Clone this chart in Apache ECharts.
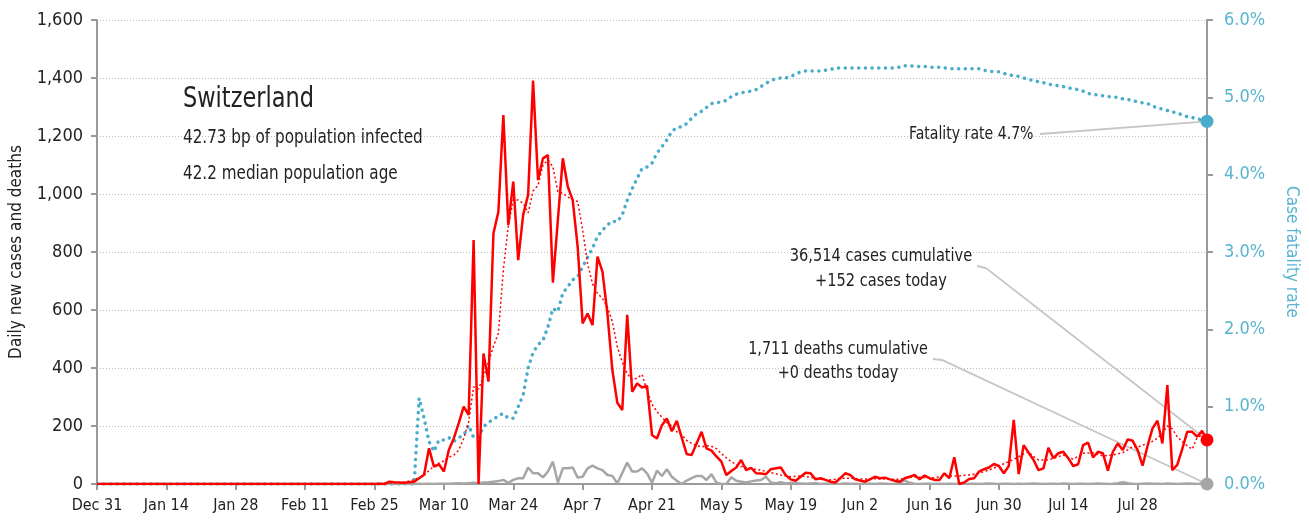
<!DOCTYPE html>
<html>
<head>
<meta charset="utf-8">
<title>Switzerland</title>
<script src="https://cdn.jsdelivr.net/npm/echarts@6/dist/echarts.min.js"></script>
<style>
  html, body { margin: 0; padding: 0; background: #fff; }
  #chart { width: 1309px; height: 523px; }
</style>
</head>
<body>
<div id="chart"></div>
<script>
  // daily values, Dec 31 2019 .. Aug 11 2020 (225 days)
  var startDay = Date.UTC(2019, 11, 31)
  var monthNames = ['Jan', 'Feb', 'Mar', 'Apr', 'May', 'Jun', 'Jul', 'Aug', 'Sep', 'Oct', 'Nov', 'Dec']

  var dailyCases = [
    0, 0, 0, 0, 0, 0, 0, 0, 0, 0, 0, 0, 0, 0, 0, 0, 0, 0, 0, 0,
    0, 0, 0, 0, 0, 0, 0, 0, 0, 0, 0, 0, 0, 0, 0, 0, 0, 0, 0, 0,
    0, 0, 0, 0, 0, 0, 0, 0, 0, 0, 0, 0, 0, 0, 0, 0, 0,
    1, 0, 8, 6, 5, 4, 6, 8, 20, 32, 123, 60, 68, 43, 117, 157, 210, 267, 238, 841,
    0, 450, 353, 864, 939, 1272, 893, 1043, 772, 928, 997, 1391, 1048, 1123, 1134, 694, 910, 1123, 1026, 979,
    818, 554, 588, 548, 784, 732, 588, 393, 280, 255, 583, 318, 347, 333, 338, 169, 157, 203, 226, 182,
    218, 160, 103, 100, 140, 180, 123, 115, 95, 77, 31, 45, 57, 83, 48, 56, 37, 36, 34, 51,
    54, 57, 30, 16, 11, 25, 39, 37, 16, 20, 14, 8, 5, 20, 37, 31, 16, 12, 8, 16,
    25, 20, 22, 16, 11, 8, 20, 25, 31, 16, 29, 20, 14, 14, 37, 20, 92, 0, 5, 17,
    20, 43, 51, 57, 69, 62, 37, 62, 221, 34, 134, 108, 83, 48, 54, 125, 89, 106, 111, 89,
    62, 68, 134, 143, 92, 111, 106, 46, 111, 140, 117, 154, 149, 117, 63, 131, 192, 218, 140, 341,
    48, 66, 120, 180, 180, 163, 183, 152
  ]

  var casesAverage = [
    0, 0, 0, 0, 0, 0, 0, 0, 0, 0, 0, 0, 0, 0, 0, 0, 0, 0, 0, 0,
    0, 0, 0, 0, 0, 0, 0, 0, 0, 0, 0, 0, 0, 0, 0, 0, 0, 0, 0, 0,
    0, 0, 0, 0, 0, 0, 0, 0, 0, 0, 0, 0, 0, 0, 0, 0,
    0, 1, 2, 3, 4, 5, 6, 10, 15, 22, 30, 46, 62, 72, 80, 92, 100, 117, 157, 215,
    335, 328, 370, 420, 475, 520, 738, 890, 980, 979, 968, 935, 1010, 1030, 1100, 1117, 1094, 1008, 1002, 990,
    979, 974, 876, 760, 690, 657, 640, 610, 560, 473, 420, 380, 360, 365, 378, 320, 275, 250, 230, 212,
    200, 180, 170, 150, 140, 132, 128, 132, 130, 122, 105, 90, 77, 68, 60, 57, 54, 50, 48, 43,
    39, 35, 31, 28, 25, 26, 28, 26, 23, 20, 16, 15, 14, 16, 20, 20, 20, 18, 17, 17,
    18, 18, 17, 17, 16, 16, 17, 18, 22, 24, 23, 22, 21, 22, 25, 27, 28, 28, 28, 30,
    31, 34, 37, 43, 48, 55, 62, 70, 77, 85, 94, 104, 111, 94, 83, 83, 83, 88, 94, 100,
    92, 85, 96, 106, 107, 108, 102, 97, 99, 100, 104, 108, 118, 129, 127, 134, 140, 147, 158, 175,
    200, 190, 163, 146, 132, 120, 160, 169, 165
  ]

  var dailyDeaths = [
    0, 0, 0, 0, 0, 0, 0, 0, 0, 0, 0, 0, 0, 0, 0, 0, 0, 0, 0, 0,
    0, 0, 0, 0, 0, 0, 0, 0, 0, 0, 0, 0, 0, 0, 0, 0, 0, 0, 0, 0,
    0, 0, 0, 0, 0, 0, 0, 0, 0, 0, 0, 0, 0, 0, 0, 0, 0, 0, 0, 0,
    0, 0, 0, 0, 0,
    1, 0, 1, 0, 1, 1, 1, 2, 3, 2, 3, 4, 3, 5, 6, 8, 10, 14, 4, 14,
    20, 20, 57, 37, 37, 23, 43, 77, 5, 54, 54, 57, 22, 25, 54, 63, 54, 48, 31, 28,
    2, 38, 74, 43, 43, 54, 37, 4, 46, 28, 51, 25, 11, 0, 12, 20, 28, 28, 14, 34,
    5, 0, 0, 23, 11, 8, 5, 9, 12, 14, 25, 5, 3, 6, 2, 4, 3, 2, 1, 2,
    3, 0, 1, 2, 1, 0, 2, 1, 1, 0, 1, 1, 0, 2, 1, 0, 1, 6, 12, 4,
    1, 0, 1, 1, 0, 1, 0, 1, 0, 1, 0, 1, 1, 0, 1, 2, 1, 0, 1, 1,
    0, 1, 0, 1, 2, 1, 0, 1, 1, 0, 2, 1, 0, 1, 1, 0, 1, 2, 1, 0,
    1, 3, 6, 3, 1, 0, 1, 2, 1, 1, 0, 2, 1, 0, 1, 2, 1, 0, 1, 0
  ]

  // case fatality rate, %
  var fatalityRate = [
    0, 0, 0, 0, 0, 0, 0, 0, 0, 0, 0, 0, 0, 0, 0, 0, 0, 0, 0, 0,
    0, 0, 0, 0, 0, 0, 0, 0, 0, 0, 0, 0, 0, 0, 0, 0, 0, 0, 0, 0,
    0, 0, 0, 0, 0, 0, 0, 0, 0, 0, 0, 0, 0, 0, 0, 0, 0, 0, 0, 0,
    0, 0, 0, 0, 0,
    1.11, 0.85, 0.55, 0.42, 0.57, 0.57, 0.60, 0.55, 0.60, 0.63, 0.76, 0.60, 0.61, 0.74, 0.80, 0.83, 0.89, 0.91, 0.85, 0.85,
    1.00, 1.15, 1.50, 1.70, 1.80, 1.86, 2.03, 2.27, 2.23, 2.47, 2.55, 2.64, 2.68, 2.81, 2.93, 3.05, 3.20, 3.28, 3.35, 3.40,
    3.39, 3.48, 3.67, 3.82, 3.95, 4.08, 4.10, 4.15, 4.28, 4.36, 4.45, 4.56, 4.61, 4.62, 4.66, 4.73, 4.79, 4.82, 4.87, 4.92,
    4.93, 4.94, 4.96, 5.01, 5.04, 5.06, 5.07, 5.08, 5.10, 5.14, 5.18, 5.22, 5.24, 5.25, 5.25, 5.27, 5.30, 5.33, 5.34, 5.34,
    5.34, 5.34, 5.35, 5.36, 5.38, 5.38, 5.38, 5.38, 5.38, 5.38, 5.38, 5.38, 5.38, 5.38, 5.38, 5.38, 5.38, 5.39, 5.41, 5.41,
    5.40, 5.40, 5.40, 5.39, 5.39, 5.39, 5.38, 5.37, 5.37, 5.37, 5.37, 5.37, 5.37, 5.37, 5.35, 5.34, 5.33, 5.33, 5.31, 5.29,
    5.28, 5.27, 5.25, 5.23, 5.22, 5.20, 5.19, 5.17, 5.16, 5.15, 5.14, 5.12, 5.11, 5.10, 5.08, 5.05, 5.04, 5.03, 5.02, 5.01,
    5.00, 5.00, 4.98, 4.97, 4.96, 4.94, 4.93, 4.92, 4.89, 4.86, 4.85, 4.83, 4.81, 4.80, 4.77, 4.75, 4.74, 4.72, 4.71, 4.69
  ]

  var leftTicks = { min: 0, max: 1600, step: 200 }
  var rightTicks = { min: 0, max: 6, step: 1 }

  var countryName = 'Switzerland'
  var infoLines = ['42.73 bp of population infected', '42.2 median population age']
  var fatalityNote = 'Fatality rate 4.7%'
  var casesNote = ['36,514 cases cumulative', '+152 cases today']
  var deathsNote = ['1,711 deaths cumulative', '+0 deaths today']

  var FONT = "'DejaVu Sans Condensed', 'Liberation Sans Narrow', 'Roboto', sans-serif"
  var INK = '#222'
  var BLUE = '#4aaccb'
  var BLUE_TEXT = '#5ab4d0'
  var AXIS = '#9a9a9a'
  var LEADER = '#c6c6c6'

  var dates = dailyCases.map(function (v, i) {
    var d = new Date(startDay + i * 86400000)
    return monthNames[d.getUTCMonth()] + ' ' + d.getUTCDate()
  })
  var last = dates.length - 1

  function lastDot (size) {
    return function (v, p) { return p.dataIndex === last ? size : 0 }
  }
  function showTick (i) { return i % 14 === 0 && i < last }

  var chart = echarts.init(document.getElementById('chart'))

  chart.setOption({
    animation: false,
    textStyle: { fontFamily: FONT },
    grid: { left: 96, right: 102, top: 20, bottom: 39 },
    xAxis: {
      type: 'category',
      data: dates,
      boundaryGap: false,
      axisLine: { lineStyle: { color: AXIS, width: 2 } },
      axisTick: { interval: showTick, length: 6, lineStyle: { color: AXIS, width: 2 } },
      axisLabel: { interval: showTick, color: INK, fontSize: 16, margin: 14, fontFamily: FONT },
      splitLine: { show: false }
    },
    yAxis: [{
      type: 'value',
      min: leftTicks.min,
      max: leftTicks.max,
      interval: leftTicks.step,
      name: 'Daily new cases and deaths',
      nameLocation: 'middle',
      nameGap: 72,
      nameTextStyle: { color: INK, fontSize: 17, fontFamily: FONT },
      axisLine: { show: true, lineStyle: { color: AXIS, width: 2 } },
      axisTick: { show: true, length: 6, lineStyle: { color: AXIS, width: 2 } },
      axisLabel: {
        color: INK, fontSize: 18, margin: 14, fontFamily: FONT,
        formatter: function (v) { return v.toLocaleString('en-US') }
      },
      splitLine: { lineStyle: { color: '#bdbdbd', width: 1, type: [1, 2] } }
    }, {
      type: 'value',
      position: 'right',
      min: rightTicks.min,
      max: rightTicks.max,
      interval: rightTicks.step,
      name: 'Case fatality rate',
      nameLocation: 'middle',
      nameGap: 76,
      nameRotate: -90,
      nameTextStyle: { color: BLUE_TEXT, fontSize: 17, fontFamily: FONT },
      axisLine: { show: true, lineStyle: { color: AXIS, width: 2 } },
      axisTick: { show: true, length: 6, lineStyle: { color: AXIS, width: 2 } },
      axisLabel: {
        color: BLUE_TEXT, fontSize: 18, margin: 17, fontFamily: FONT,
        formatter: function (v) { return v.toFixed(1) + '%' }
      },
      splitLine: { show: false }
    }],
    series: [{
      name: 'Case fatality rate',
      type: 'line',
      yAxisIndex: 1,
      data: fatalityRate,
      showSymbol: true,
      showAllSymbol: true,
      symbol: 'circle',
      symbolSize: lastDot(13),
      itemStyle: { color: BLUE },
      lineStyle: { color: BLUE, width: 3.5, type: [0.1, 6.6], cap: 'round' },
      z: 2
    }, {
      name: 'Deaths',
      type: 'line',
      data: dailyDeaths,
      showSymbol: true,
      showAllSymbol: true,
      symbol: 'circle',
      symbolSize: lastDot(13),
      itemStyle: { color: '#a6a6a6' },
      lineStyle: { color: '#a6a6a6', width: 2.5 },
      z: 3
    }, {
      name: 'Cases average',
      type: 'line',
      data: casesAverage,
      showSymbol: false,
      lineStyle: { color: '#ff0000', width: 1.5, type: [2, 2.5] },
      z: 4
    }, {
      name: 'Cases',
      type: 'line',
      data: dailyCases,
      showSymbol: true,
      showAllSymbol: true,
      symbol: 'circle',
      symbolSize: lastDot(13),
      itemStyle: { color: '#ff0000' },
      lineStyle: { color: '#ff0000', width: 2.5 },
      z: 5
    }]
  })

  // annotations, leader lines end at the last data points
  var pCases = chart.convertToPixel({ xAxisIndex: 0, yAxisIndex: 0 }, [last, dailyCases[last]])
  var pDeaths = chart.convertToPixel({ xAxisIndex: 0, yAxisIndex: 0 }, [last, dailyDeaths[last]])
  var pRate = chart.convertToPixel({ xAxisIndex: 0, yAxisIndex: 1 }, [last, fatalityRate[last]])

  // the original face is narrower than the installed ones, so squeeze the text a little
  function label (text, x, y, size, squeeze, align) {
    return {
      type: 'text', x: x, y: y, z: 20, scaleX: squeeze,
      style: { text: text, fill: INK, font: size + 'px ' + FONT, align: align || 'left', verticalAlign: 'middle' }
    }
  }
  function leader (points) {
    return {
      type: 'polyline', z: 1, silent: true,
      shape: { points: points },
      style: { stroke: LEADER, lineWidth: 1.8, fill: null }
    }
  }

  chart.setOption({
    graphic: [
      label(countryName, 183, 99, 29, 0.86),
      label(infoLines[0], 183, 138, 19, 0.89),
      label(infoLines[1], 183, 174, 19, 0.89),
      label(fatalityNote, 909, 134, 18, 0.87),
      leader([[1040, 134], pRate]),
      label(casesNote[0], 881, 256, 18, 0.9, 'center'),
      label(casesNote[1], 881, 281, 18, 0.9, 'center'),
      leader([[977, 266], [986, 268], pCases]),
      label(deathsNote[0], 838, 349, 18, 0.89, 'center'),
      label(deathsNote[1], 838, 373, 18, 0.89, 'center'),
      leader([[933, 359], [942, 360], pDeaths])
    ]
  })
</script>
</body>
</html>
